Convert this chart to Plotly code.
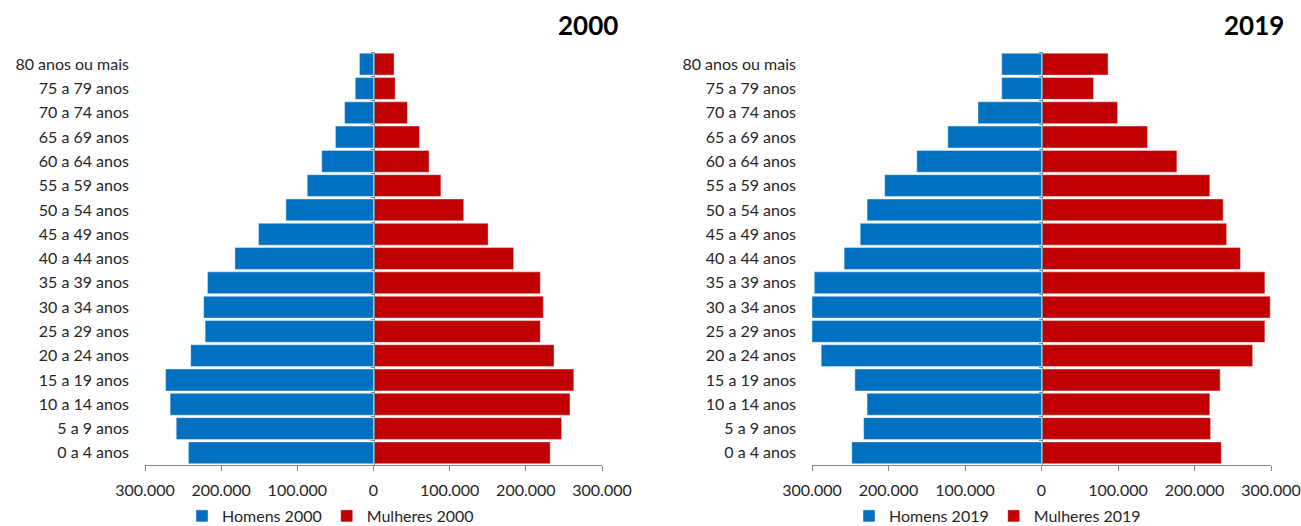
import plotly.graph_objects as go

# Faixas etárias (de baixo para cima)
faixas = [
    "0 a 4 anos", "5 a 9 anos", "10 a 14 anos", "15 a 19 anos", "20 a 24 anos",
    "25 a 29 anos", "30 a 34 anos", "35 a 39 anos", "40 a 44 anos", "45 a 49 anos",
    "50 a 54 anos", "55 a 59 anos", "60 a 64 anos", "65 a 69 anos", "70 a 74 anos",
    "75 a 79 anos", "80 anos ou mais",
]

homens_2000 = [243000, 259000, 267000, 273000, 240000, 221000, 223000, 218000, 182000,
               151000, 115000, 87000, 68000, 50000, 38000, 24000, 18500]
mulheres_2000 = [232000, 247000, 258000, 263000, 237000, 219000, 223000, 219000, 184000,
                 150500, 118500, 88500, 73000, 60500, 44500, 28500, 27000]

homens_2019 = [248000, 232500, 228000, 244000, 288000, 300000, 300000, 297000, 258000,
               237000, 228000, 205000, 163000, 122500, 83000, 52000, 52000]
mulheres_2019 = [235000, 221000, 220000, 233500, 276000, 292000, 299000, 292000, 260000,
                 242000, 237500, 220000, 177000, 138500, 99500, 68000, 87000]

tick_vals = [-300000, -200000, -100000, 0, 100000, 200000, 300000]
tick_text = ["300.000", "200.000", "100.000", "0", "100.000", "200.000", "300.000"]

AZUL = "#0070C0"
VERMELHO = "#C00000"
CINZA = "#868686"
TEXTO = "#262626"
FONTE = "Lato"
TAM = 16

x_dominios = [[145 / 1301, 602 / 1301], [812 / 1301, 1271 / 1301]]
y_dominio = [1 - 465 / 526, 1 - 52 / 526]

fig = go.Figure()

paineis = [
    ("2000", homens_2000, mulheres_2000),
    ("2019", homens_2019, mulheres_2019),
]

for i, (ano, homens, mulheres) in enumerate(paineis):
    n = i + 1
    xa = "x" if n == 1 else f"x{n}"
    ya_lab = "y" if n == 1 else f"y{2 * n - 1}"
    ya_eixo = f"y{2 * n}"
    leg = "legend" if n == 1 else "legend2"

    fig.add_trace(go.Bar(
        y=faixas, x=[-v for v in homens], orientation="h",
        name=f"Homens {ano}", marker=dict(color=AZUL, line=dict(color="rgba(255,255,255,0.7)", width=0.6)),
        customdata=homens, hovertemplate="%{y}: %{customdata:,.0f}<extra></extra>",
        xaxis=xa, yaxis=ya_lab, legend=leg,
    ))
    fig.add_trace(go.Bar(
        y=faixas, x=mulheres, orientation="h",
        name=f"Mulheres {ano}", marker=dict(color=VERMELHO, line=dict(color="rgba(255,255,255,0.7)", width=0.6)),
        hovertemplate="%{y}: %{x:,.0f}<extra></extra>",
        xaxis=xa, yaxis=ya_eixo, legend=leg,
    ))

    xk = "xaxis" if n == 1 else f"xaxis{n}"
    yk_lab = "yaxis" if n == 1 else f"yaxis{2 * n - 1}"
    yk_eixo = f"yaxis{2 * n}"
    dom = x_dominios[i]
    zero_pos = dom[0] + (dom[1] - dom[0]) * 0.5

    fig.layout[xk] = dict(
        domain=dom, range=[-300000, 300000], anchor=ya_lab,
        tickvals=tick_vals, ticktext=tick_text,
        showgrid=False, zeroline=False,
        showline=True, linecolor=CINZA, linewidth=1,
        ticks="outside", ticklen=5, tickcolor=CINZA,
        ticklabelstandoff=6,
        tickfont=dict(family=FONTE, size=TAM, color=TEXTO),
        automargin=False, fixedrange=True,
    )
    fig.layout[yk_lab] = dict(
        domain=y_dominio, anchor=xa, type="category",
        categoryorder="array", categoryarray=faixas, range=[-0.5, len(faixas) - 0.5],
        showgrid=False, zeroline=False, showline=False, ticks="",
        ticklabelstandoff=15,
        tickfont=dict(family=FONTE, size=TAM, color=TEXTO),
        automargin=False, fixedrange=True,
    )
    # eixo vertical no zero, com marcas entre as faixas
    fig.layout[yk_eixo] = dict(
        overlaying=ya_lab, anchor="free", position=zero_pos, type="category",
        categoryorder="array", categoryarray=faixas, range=[-0.5, len(faixas) - 0.5],
        showgrid=False, zeroline=False, showline=True, linecolor=CINZA, linewidth=1,
        ticks="outside", tickson="boundaries", ticklen=3, tickcolor=CINZA,
        showticklabels=False, automargin=False, fixedrange=True,
    )

    fig.add_annotation(
        text=f"<b>{ano}</b>", xref="paper", yref="paper",
        x=[620 / 1301, 1286 / 1301][i], y=1 - 25 / 526,
        xanchor="right", yanchor="middle", showarrow=False,
        font=dict(family=FONTE, size=26, color="#000000"),
    )

legenda_base = dict(
    orientation="h", y=1 - 516 / 526, xanchor="left", yanchor="middle",
    font=dict(family=FONTE, size=TAM, color=TEXTO), bgcolor="rgba(0,0,0,0)",
    itemwidth=30, tracegroupgap=0,
)

fig.update_layout(
    width=1301, height=526,
    margin=dict(l=0, r=0, t=0, b=0, autoexpand=False),
    paper_bgcolor="white", plot_bgcolor="white",
    barmode="relative", bargap=0.1,
    legend=dict(legenda_base, x=182 / 1301),
    legend2=dict(legenda_base, x=849 / 1301),
)

fig.write_html("out.html")
